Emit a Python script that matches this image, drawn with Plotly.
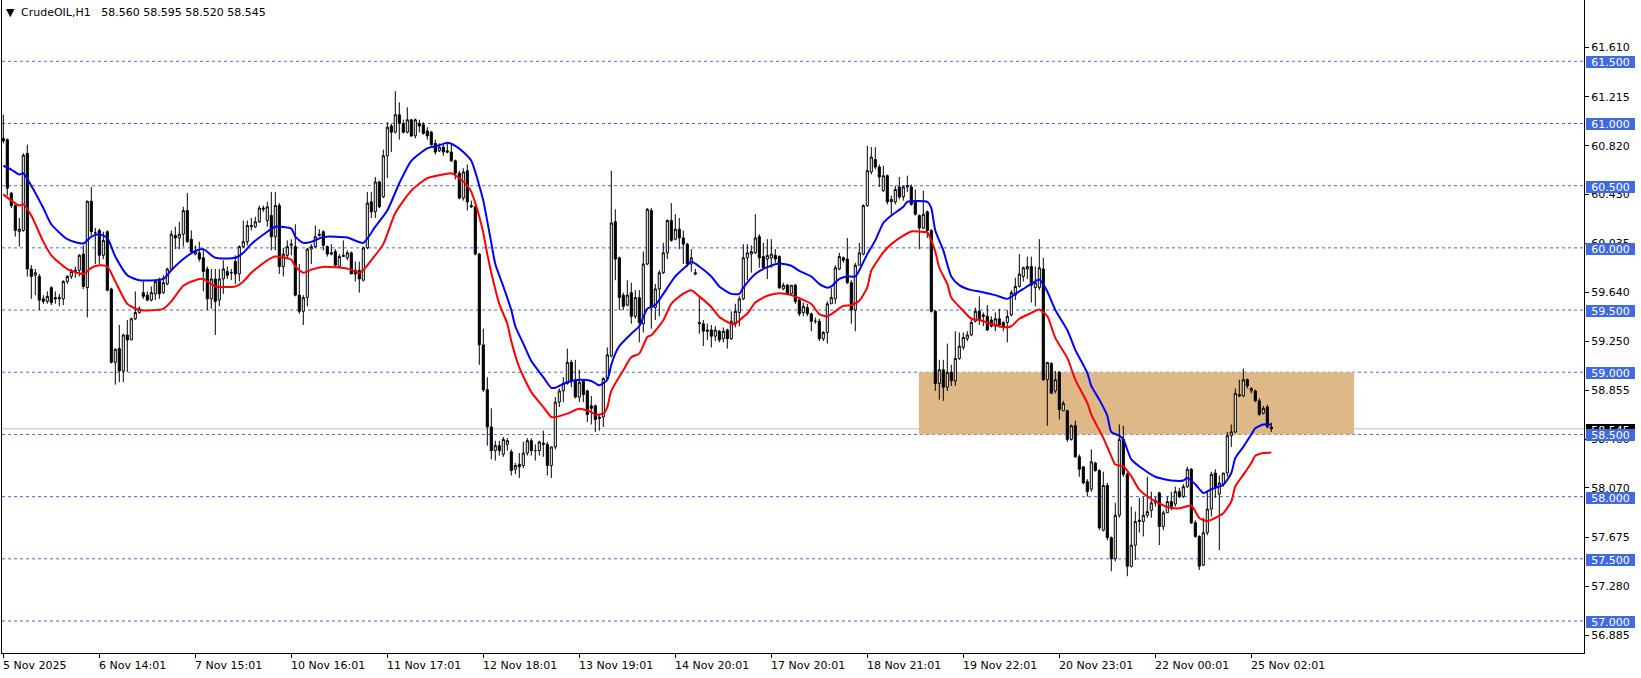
import plotly.graph_objects as go

# ---------------- data (CrudeOIL, H1) ----------------
opens = [
    60.88, 60.87, 60.44, 60.34, 60.13, 60.14, 60.76, 59.83, 59.78, 59.77,
    59.59, 59.57, 59.68, 59.60, 59.59, 59.59, 59.73, 59.77, 59.81, 59.82,
    59.95, 59.68, 60.375, 60.12, 60.14, 59.94, 60.13, 59.67, 59.08, 59.19,
    59.01, 59.30, 59.26, 59.43, 59.48, 59.64, 59.62, 59.58, 59.63, 59.74,
    59.64, 59.71, 59.83, 60.10, 60.08, 60.11, 60.30, 60.07, 59.95, 59.96,
    59.92, 59.83, 59.59, 59.75, 59.58, 59.75, 59.81, 59.80, 59.89, 59.79,
    60.01, 60.05, 60.17, 60.17, 60.21, 60.31, 60.22, 60.26, 60.09, 60.34,
    59.85, 59.94, 60.02, 60.01, 59.62, 59.49, 59.60, 59.99, 60.01, 60.10,
    60.13, 60.01, 59.95, 59.97, 59.85, 59.93, 59.92, 59.96, 59.82, 59.82,
    59.74, 60.00, 60.37, 60.29, 60.53, 60.41, 60.74, 60.98, 60.93, 61.07,
    61.00, 60.93, 61.03, 60.90, 61.00, 60.99, 60.94, 60.93, 60.84, 60.78,
    60.81, 60.78, 60.77, 60.70, 60.60, 60.40, 60.62, 60.34, 60.33, 59.95,
    59.22, 58.86, 58.56, 58.37, 58.41, 58.34, 58.42, 58.36, 58.22, 58.26,
    58.25, 58.35, 58.45, 58.37, 58.37, 58.43, 58.42, 58.25, 58.40, 58.76,
    58.85, 58.91, 59.08, 58.93, 58.80, 58.93, 58.85, 58.73, 58.73, 58.64,
    58.64, 58.95, 59.13, 60.21, 59.92, 59.62, 59.54, 59.64, 59.45, 59.60,
    59.39, 59.87, 60.30, 59.52, 59.67, 59.80, 59.96, 60.22, 60.07, 60.15,
    60.08, 60.03, 59.87, 59.80, 59.39, 59.39, 59.34, 59.34, 59.29, 59.33,
    59.27, 59.34, 59.27, 59.40, 59.48, 59.59, 59.92, 59.95, 59.96, 60.09,
    59.93, 59.91, 59.92, 59.94, 59.93, 59.67, 59.70, 59.63, 59.70, 59.58,
    59.48, 59.52, 59.47, 59.41, 59.41, 59.27, 59.32, 59.55, 59.59, 59.83,
    59.92, 59.91, 59.72, 59.50, 59.86, 59.95, 60.34, 60.61, 60.71, 60.65,
    60.46, 60.58, 60.37, 60.37, 60.49, 60.41, 60.49, 60.49, 60.37, 60.26,
    60.16, 60.29, 60.14, 59.49, 58.91, 59.02, 58.88, 59.00, 58.93, 59.11,
    59.20, 59.27, 59.30, 59.41, 59.49, 59.46, 59.45, 59.42, 59.37, 59.43,
    59.40, 59.40, 59.46, 59.62, 59.69, 59.77, 59.83, 59.85, 59.68, 59.68,
    59.83, 58.94, 59.07, 58.85, 59.00, 58.69, 58.69, 58.46, 58.57, 58.32,
    58.24, 58.12, 58.06, 58.27, 58.21, 57.73, 58.09, 57.67, 57.50, 57.85,
    58.46, 58.18, 57.44, 57.61, 57.80, 57.80, 57.85, 57.89, 57.95, 58.03,
    57.76, 57.87, 57.96, 57.94, 58.04, 58.00, 58.08, 58.22, 57.79, 57.68,
    57.45, 57.71, 57.90, 58.19, 58.02, 58.10, 58.19, 58.49, 58.52, 58.82,
    58.81, 58.94, 58.85, 58.85, 58.77, 58.67, 58.72, 58.560,
]
highs = [
    61.07, 60.88, 60.45, 60.35, 60.24, 60.76, 60.83, 59.86, 59.83, 59.79,
    59.62, 59.65, 59.69, 59.65, 59.63, 59.74, 59.78, 59.83, 59.85, 59.95,
    60.02, 60.38, 60.49, 60.16, 60.155, 60.13, 60.14, 59.68, 59.19, 59.38,
    59.31, 59.42, 59.44, 59.65, 59.53, 59.73, 59.65, 59.69, 59.74, 59.76,
    59.78, 59.84, 60.14, 60.17, 60.21, 60.33, 60.44, 60.14, 60.02, 60.05,
    59.99, 59.85, 59.83, 59.83, 59.83, 59.90, 59.85, 59.83, 59.94, 60.02,
    60.22, 60.22, 60.24, 60.25, 60.34, 60.34, 60.37, 60.45, 60.45, 60.36,
    60.00, 60.06, 60.07, 60.19, 59.87, 59.62, 60.00, 60.03, 60.18, 60.15,
    60.14, 60.02, 60.03, 59.99, 59.95, 60.06, 59.98, 59.97, 59.89, 59.89,
    60.01, 60.45, 60.45, 60.57, 60.54, 60.79, 61.01, 61.00, 61.26, 61.17,
    61.03, 61.13, 61.03, 61.04, 61.03, 61.01, 60.97, 60.94, 60.87, 60.84,
    60.83, 60.84, 60.83, 60.71, 60.62, 60.64, 60.67, 60.38, 60.35, 59.96,
    59.35, 58.96, 58.71, 58.45, 58.45, 58.48, 58.47, 58.38, 58.27, 58.35,
    58.44, 58.47, 58.47, 58.42, 58.45, 58.53, 58.44, 58.40, 58.80, 58.87,
    58.96, 59.19, 59.10, 59.10, 59.02, 58.94, 58.86, 58.81, 58.74, 58.66,
    58.96, 59.20, 60.62, 60.31, 59.93, 59.64, 59.74, 59.72, 59.66, 59.66,
    59.97, 60.32, 60.32, 59.71, 59.82, 60.04, 60.23, 60.36, 60.27, 60.24,
    60.14, 60.04, 59.99, 59.83, 59.60, 59.42, 59.39, 59.38, 59.37, 59.34,
    59.36, 59.35, 59.49, 59.55, 59.61, 60.03, 60.03, 60.02, 60.27, 60.11,
    60.04, 60.07, 60.07, 59.99, 59.94, 59.72, 59.71, 59.70, 59.71, 59.60,
    59.56, 59.55, 59.48, 59.44, 59.43, 59.33, 59.57, 59.68, 59.86, 59.96,
    59.93, 60.08, 59.74, 59.88, 60.04, 60.35, 60.82, 60.81, 60.81, 60.67,
    60.66, 60.59, 60.42, 60.50, 60.57, 60.50, 60.58, 60.51, 60.47, 60.27,
    60.46, 60.30, 60.15, 59.50, 59.10, 59.10, 59.23, 59.06, 59.33, 59.32,
    59.32, 59.33, 59.42, 59.52, 59.61, 59.48, 59.54, 59.45, 59.48, 59.51,
    59.41, 59.50, 59.66, 59.76, 59.95, 59.85, 59.93, 59.93, 59.85, 60.07,
    59.92, 59.08, 59.08, 59.01, 59.01, 58.77, 58.70, 58.58, 58.61, 58.34,
    58.24, 58.14, 58.38, 58.28, 58.22, 58.20, 58.11, 57.68, 57.95, 58.58,
    58.57, 58.20, 57.92, 57.88, 57.99, 58.00, 58.16, 58.04, 58.00, 58.04,
    57.89, 58.00, 58.04, 58.08, 58.07, 58.10, 58.24, 58.23, 57.81, 57.69,
    57.83, 58.04, 58.20, 58.22, 58.17, 58.19, 58.52, 58.58, 58.87, 58.94,
    59.03, 58.95, 58.88, 58.86, 58.79, 58.73, 58.74, 58.595,
]
lows = [
    60.84, 60.42, 60.32, 60.09, 60.01, 60.13, 59.77, 59.59, 59.62, 59.50,
    59.55, 59.55, 59.54, 59.55, 59.53, 59.54, 59.71, 59.75, 59.76, 59.77,
    59.67, 59.44, 60.10, 59.87, 59.87, 59.91, 59.65, 59.07, 58.90, 58.92,
    58.92, 59.00, 59.26, 59.42, 59.47, 59.59, 59.57, 59.57, 59.58, 59.59,
    59.63, 59.70, 59.82, 59.99, 59.99, 60.01, 60.04, 59.95, 59.94, 59.89,
    59.65, 59.50, 59.51, 59.30, 59.53, 59.63, 59.75, 59.74, 59.71, 59.73,
    60.00, 60.02, 60.14, 60.16, 60.20, 60.29, 60.17, 59.98, 59.98, 59.79,
    59.77, 59.91, 59.94, 59.61, 59.47, 59.38, 59.53, 59.87, 60.00, 60.09,
    59.98, 59.93, 59.94, 59.85, 59.84, 59.93, 59.90, 59.79, 59.73, 59.64,
    59.73, 59.99, 60.24, 60.24, 60.32, 60.40, 60.56, 60.77, 60.92, 60.87,
    60.92, 60.92, 60.89, 60.88, 60.93, 60.91, 60.87, 60.82, 60.75, 60.77,
    60.74, 60.76, 60.69, 60.55, 60.39, 60.38, 60.30, 60.32, 59.94, 59.06,
    58.84, 58.41, 58.30, 58.29, 58.33, 58.32, 58.37, 58.17, 58.18, 58.15,
    58.23, 58.33, 58.33, 58.29, 58.33, 58.32, 58.17, 58.15, 58.38, 58.72,
    58.76, 58.90, 58.88, 58.79, 58.76, 58.76, 58.60, 58.58, 58.52, 58.53,
    58.56, 58.94, 59.12, 59.74, 59.50, 59.50, 59.53, 59.39, 59.43, 59.24,
    59.32, 59.86, 59.35, 59.42, 59.45, 59.79, 59.91, 60.05, 60.06, 59.99,
    59.87, 59.85, 59.81, 59.78, 59.31, 59.21, 59.26, 59.20, 59.25, 59.24,
    59.24, 59.19, 59.26, 59.36, 59.37, 59.58, 59.74, 59.80, 59.95, 59.84,
    59.83, 59.75, 59.84, 59.88, 59.67, 59.66, 59.62, 59.62, 59.55, 59.45,
    59.45, 59.45, 59.33, 59.39, 59.25, 59.25, 59.23, 59.55, 59.55, 59.82,
    59.88, 59.71, 59.39, 59.33, 59.86, 59.94, 60.33, 60.59, 60.63, 60.49,
    60.45, 60.35, 60.27, 60.35, 60.39, 60.38, 60.45, 60.34, 60.26, 59.99,
    60.15, 60.08, 59.48, 58.85, 58.78, 58.77, 58.85, 58.89, 58.89, 59.10,
    59.18, 59.25, 59.29, 59.40, 59.38, 59.37, 59.33, 59.36, 59.33, 59.36,
    59.33, 59.24, 59.45, 59.58, 59.68, 59.73, 59.75, 59.56, 59.53, 59.66,
    58.93, 58.57, 58.83, 58.83, 58.62, 58.69, 58.44, 58.45, 58.31, 58.16,
    58.10, 58.00, 58.04, 58.20, 57.73, 57.72, 57.65, 57.40, 57.48, 57.83,
    58.16, 57.36, 57.43, 57.49, 57.71, 57.68, 57.83, 57.83, 57.92, 57.61,
    57.73, 57.87, 57.89, 57.92, 57.99, 57.99, 58.07, 57.78, 57.67, 57.41,
    57.44, 57.69, 57.84, 57.99, 57.57, 58.08, 58.16, 58.40, 58.51, 58.80,
    58.80, 58.87, 58.83, 58.76, 58.65, 58.66, 58.55, 58.520,
]
closes = [
    60.86, 60.48, 60.34, 60.14, 60.15, 60.745, 59.83, 59.77, 59.80, 59.58,
    59.57, 59.61, 59.56, 59.59, 59.60, 59.73, 59.77, 59.81, 59.82, 59.94,
    59.69, 60.375, 60.13, 60.12, 59.94, 60.06, 59.66, 59.08, 59.185, 59.01,
    59.30, 59.26, 59.43, 59.48, 59.51, 59.61, 59.58, 59.64, 59.73, 59.63,
    59.72, 59.83, 60.11, 60.08, 60.11, 60.30, 60.05, 59.97, 59.97, 59.91,
    59.81, 59.59, 59.75, 59.57, 59.75, 59.83, 59.78, 59.80, 59.79, 60.01,
    60.05, 60.18, 60.18, 60.21, 60.32, 60.32, 60.33, 60.09, 60.34, 59.85,
    59.95, 60.01, 60.03, 59.62, 59.49, 59.60, 59.99, 60.01, 60.09, 60.11,
    60.02, 59.95, 59.96, 59.86, 59.93, 59.94, 59.96, 59.79, 59.79, 59.75,
    60.00, 60.36, 60.29, 60.53, 60.33, 60.74, 60.97, 60.93, 61.07, 61.00,
    60.93, 61.03, 60.90, 61.03, 60.98, 60.92, 60.90, 60.83, 60.77, 60.81,
    60.77, 60.77, 60.70, 60.60, 60.40, 60.61, 60.37, 60.33, 59.95, 59.22,
    58.86, 58.56, 58.37, 58.41, 58.37, 58.46, 58.45, 58.21, 58.25, 58.24,
    58.35, 58.45, 58.37, 58.37, 58.44, 58.42, 58.25, 58.40, 58.76, 58.85,
    58.91, 59.08, 58.93, 58.80, 58.92, 58.82, 58.66, 58.71, 58.62, 58.63,
    58.95, 59.14, 60.20, 59.91, 59.60, 59.53, 59.62, 59.45, 59.60, 59.40,
    59.87, 60.31, 59.52, 59.67, 59.80, 59.96, 60.22, 60.06, 60.15, 60.08,
    60.03, 59.87, 59.92, 59.79, 59.40, 59.33, 59.33, 59.29, 59.34, 59.26,
    59.33, 59.27, 59.41, 59.49, 59.59, 59.92, 59.96, 59.97, 60.08, 59.92,
    59.84, 59.94, 59.95, 59.91, 59.68, 59.70, 59.63, 59.70, 59.57, 59.47,
    59.53, 59.47, 59.41, 59.41, 59.27, 59.32, 59.55, 59.60, 59.84, 59.93,
    59.90, 59.72, 59.50, 59.86, 59.96, 60.34, 60.62, 60.73, 60.65, 60.57,
    60.58, 60.37, 60.39, 60.47, 60.41, 60.49, 60.50, 60.35, 60.27, 60.16,
    60.27, 60.14, 59.49, 58.91, 59.02, 58.88, 59.00, 58.93, 59.11, 59.21,
    59.28, 59.30, 59.40, 59.49, 59.42, 59.45, 59.34, 59.37, 59.43, 59.38,
    59.36, 59.45, 59.64, 59.69, 59.79, 59.84, 59.85, 59.70, 59.72, 59.84,
    58.94, 59.08, 58.83, 58.94, 58.70, 58.75, 58.46, 58.57, 58.32, 58.22,
    58.11, 58.04, 58.28, 58.21, 57.75, 58.09, 57.67, 57.50, 57.85, 58.46,
    58.18, 57.44, 57.61, 57.80, 57.81, 57.85, 57.88, 57.95, 57.97, 57.76,
    57.87, 57.96, 57.92, 58.04, 58.00, 58.08, 58.22, 57.79, 57.68, 57.44,
    57.71, 57.90, 58.18, 58.08, 58.11, 58.19, 58.49, 58.52, 58.83, 58.81,
    58.94, 58.89, 58.87, 58.77, 58.66, 58.71, 58.56, 58.545,
]
bars = list(range(len(closes)))

# moving averages (bar index, price)
blue_ma_bars = [
    0, 2, 4, 5, 7, 10, 12, 16, 20, 22, 24, 26, 28, 31, 34, 40, 42, 45, 48, 50,
    53, 58, 60, 62, 66, 68, 72, 73, 75, 77, 80, 86, 90, 93, 96, 99, 102, 106, 109, 111,
    113, 115, 117, 119, 120, 122, 123, 125, 127, 128, 130, 132, 135, 137, 138, 141, 144, 147, 149, 151,
    152, 153, 154, 157, 159, 161, 163, 165, 168, 171, 172, 174, 177, 179, 182, 184, 185, 188, 191, 194,
    197, 199, 202, 204, 206, 207, 209, 211, 213, 214, 216, 218, 220, 222, 225, 226, 231, 232, 233, 235,
    237, 239, 242, 244, 248, 251, 253, 255, 257, 259, 261, 263, 266, 268, 271, 272, 274, 276, 277, 279,
    280, 282, 285, 288, 292, 295, 296, 298, 300, 302, 305, 307, 308, 310, 312, 313, 315, 317,
]
blue_ma = [
    60.66, 60.63, 60.59, 60.60, 60.50, 60.32, 60.19, 60.07, 60.035, 60.09,
    60.11, 60.08, 59.93, 59.78, 59.74, 59.75, 59.82, 59.91, 59.975, 59.99,
    59.92, 59.92, 59.96, 60.03, 60.13, 60.17, 60.155, 60.09, 60.04, 60.048,
    60.088, 60.083, 60.04, 60.17, 60.30, 60.52, 60.70, 60.80, 60.825, 60.845,
    60.82, 60.77, 60.70, 60.50, 60.38, 60.04, 59.87, 59.69, 59.50, 59.37,
    59.23, 59.09, 58.96, 58.875, 58.876, 58.92, 58.94, 58.93, 58.895, 58.94,
    59.06, 59.15, 59.21, 59.31, 59.37, 59.51, 59.54, 59.63, 59.77, 59.86,
    59.89, 59.85, 59.77, 59.69, 59.63, 59.63, 59.68, 59.79, 59.845, 59.875,
    59.856, 59.815, 59.77, 59.71, 59.68, 59.69, 59.75, 59.77, 59.77, 59.82,
    59.95, 60.06, 60.20, 60.26, 60.33, 60.37, 60.37, 60.32, 60.14, 59.98,
    59.77, 59.70, 59.66, 59.65, 59.62, 59.59, 59.63, 59.67, 59.71, 59.745,
    59.65, 59.50, 59.34, 59.18, 58.995, 58.89, 58.78, 58.65, 58.52, 58.49,
    58.46, 58.30, 58.22, 58.16, 58.13, 58.13, 58.15, 58.10, 58.03, 58.06,
    58.095, 58.19, 58.31, 58.40, 58.50, 58.55, 58.58, 58.58,
]
red_ma_bars = [
    0, 2, 4, 5, 7, 10, 12, 16, 20, 22, 24, 26, 28, 31, 34, 40, 42, 45, 48, 50,
    53, 58, 60, 62, 66, 68, 72, 73, 75, 77, 80, 86, 89, 90, 92, 95, 98, 102, 106, 109,
    112, 114, 116, 117, 118, 119, 120, 121, 122, 124, 126, 127, 129, 132, 135, 137, 138, 141, 144, 147,
    148, 150, 151, 152, 155, 157, 159, 161, 162, 165, 167, 170, 172, 174, 177, 179, 182, 183, 185, 186,
    188, 191, 194, 197, 199, 202, 204, 206, 207, 210, 212, 214, 216, 217, 220, 222, 225, 227, 229, 231,
    232, 233, 234, 236, 237, 240, 242, 244, 247, 250, 252, 254, 257, 259, 261, 263, 266, 268, 271, 272,
    275, 277, 278, 280, 282, 284, 287, 291, 294, 297, 299, 301, 303, 305, 307, 308, 310, 312, 313, 315,
    317,
]
red_ma = [
    60.43, 60.38, 60.34, 60.35, 60.26, 60.05, 59.94, 59.83, 59.79, 59.84,
    59.86, 59.85, 59.73, 59.55, 59.50, 59.51, 59.57, 59.695, 59.74, 59.75,
    59.69, 59.69, 59.73, 59.80, 59.90, 59.93, 59.906, 59.85, 59.80, 59.825,
    59.847, 59.833, 59.80, 59.82, 59.90, 60.03, 60.28, 60.46, 60.56, 60.584,
    60.60, 60.56, 60.50, 60.45, 60.36, 60.25, 60.12, 59.95, 59.80, 59.55,
    59.39, 59.25, 59.04, 58.84, 58.72, 58.64, 58.64, 58.667, 58.707, 58.68,
    58.66, 58.667, 58.72, 58.85, 59.016, 59.12, 59.15, 59.284, 59.297, 59.418,
    59.55, 59.632, 59.66, 59.61, 59.525, 59.445, 59.39, 59.39, 59.445, 59.47,
    59.56, 59.615, 59.636, 59.62, 59.596, 59.548, 59.467, 59.449, 59.467, 59.534,
    59.54, 59.575, 59.682, 59.816, 59.963, 60.03, 60.098, 60.132, 60.13, 60.124,
    60.06, 59.97, 59.84, 59.71, 59.60, 59.494, 59.43, 59.42, 59.39, 59.362,
    59.37, 59.43, 59.477, 59.504, 59.45, 59.276, 59.115, 58.941, 58.753, 58.66,
    58.472, 58.324, 58.258, 58.244, 58.164, 58.056, 57.981, 57.917, 57.906, 57.928,
    57.829, 57.802, 57.829, 57.867, 57.961, 58.082, 58.175, 58.27, 58.328, 58.35,
    58.355,
]

x_label_bars = [0, 24, 48, 72, 96, 120, 144, 168, 192, 216, 240, 264, 288, 312]
x_labels = ["5 Nov 2025", "6 Nov 14:01", "7 Nov 15:01", "10 Nov 16:01", "11 Nov 17:01",
            "12 Nov 18:01", "13 Nov 19:01", "14 Nov 20:01", "17 Nov 20:01", "18 Nov 21:01",
            "19 Nov 22:01", "20 Nov 23:01", "22 Nov 00:01", "25 Nov 02:01"]

y_tick_vals = [61.610, 61.215, 60.820, 60.430, 60.035, 59.640, 59.250, 58.855,
               58.460, 58.070, 57.675, 57.280, 56.885]
y_tick_text = ["61.610", "61.215", "60.820", "60.430", "60.035", "59.640", "59.250",
               "58.855", "58.460", "58.070", "57.675", "57.280", "56.885"]

level_prices = [61.5, 61.0, 60.5, 60.0, 59.5, 59.0, 58.5, 58.0, 57.5, 57.0]
level_texts = ["61.500", "61.000", "60.500", "60.000", "59.500", "59.000",
               "58.500", "58.000", "57.500", "57.000"]

zone_bars = [228.9, 337.7]
zone_prices = [58.5, 59.0]

current_price = 58.545
header = "CrudeOIL,H1\u00a0\u00a0 58.560 58.595 58.520 58.545"

# ---------------- figure ----------------
FONT = "DejaVu Sans"
W, H = 1641, 678
ML, MR, MT, MB = 2, 57, 0, 25
PLOT_H = H - MT - MB

fig = go.Figure()

fig.add_trace(go.Candlestick(
    x=bars, open=opens, high=highs, low=lows, close=closes,
    increasing=dict(line=dict(color="black", width=1), fillcolor="white"),
    decreasing=dict(line=dict(color="black", width=1), fillcolor="black"),
    whiskerwidth=0, showlegend=False, hoverinfo="skip",
))
fig.add_trace(go.Scatter(
    x=blue_ma_bars, y=blue_ma, mode="lines",
    line=dict(color="#0000FF", width=2, shape="spline", smoothing=0.6),
    showlegend=False, hoverinfo="skip",
))
fig.add_trace(go.Scatter(
    x=red_ma_bars, y=red_ma, mode="lines",
    line=dict(color="#FF0000", width=2, shape="spline", smoothing=0.6),
    showlegend=False, hoverinfo="skip",
))

shapes = []
shapes.append(dict(type="rect", xref="x", yref="y",
                   x0=zone_bars[0], x1=zone_bars[1], y0=zone_prices[0], y1=zone_prices[1],
                   fillcolor="#DEB887", line=dict(width=0), layer="below"))
shapes.append(dict(type="line", xref="paper", yref="y", x0=0, x1=1,
                   y0=current_price, y1=current_price,
                   line=dict(color="#C0C0C0", width=1), layer="below"))
for p in level_prices:
    shapes.append(dict(type="line", xref="paper", yref="y", x0=0, x1=1, y0=p, y1=p,
                       line=dict(color="#4169E1", width=1, dash="3px,3px"), layer="below"))

annotations = []
# header
annotations.append(dict(text="\u25BC", xref="paper", yref="paper", x=0, y=1 - 12.5 / PLOT_H,
                        xanchor="left", yanchor="middle", xshift=2, showarrow=False,
                        font=dict(family=FONT, size=11, color="black")))
annotations.append(dict(text=header, xref="paper", yref="paper", x=0, y=1 - 12.5 / PLOT_H,
                        xanchor="left", yanchor="middle", xshift=17, showarrow=False,
                        font=dict(family=FONT, size=11, color="black")))
# x labels (left-aligned at tick, MT4 style)
for b, t in zip(x_label_bars, x_labels):
    annotations.append(dict(text=t, xref="x", yref="paper", x=b, y=0,
                            xanchor="left", yanchor="top", xshift=-2, yshift=-4,
                            showarrow=False, font=dict(family=FONT, size=11, color="black")))
# current price box
annotations.append(dict(text="58.545", xref="paper", yref="y", x=1, y=current_price,
                        xanchor="left", yanchor="middle", xshift=2, yshift=-1,
                        width=49, height=12, borderpad=0, borderwidth=0,
                        bgcolor="black", showarrow=False,
                        font=dict(family=FONT, size=11, color="white")))
# level boxes
for p, t in zip(level_prices, level_texts):
    annotations.append(dict(text=t, xref="paper", yref="y", x=1, y=p,
                            xanchor="left", yanchor="middle", xshift=2, yshift=-1,
                            width=49, height=12, borderpad=0, borderwidth=0,
                            bgcolor="#4169E1", showarrow=False,
                            font=dict(family=FONT, size=11, color="white")))

fig.update_layout(
    width=W, height=H,
    margin=dict(l=ML, r=MR, t=MT, b=MB, pad=0),
    paper_bgcolor="white", plot_bgcolor="white",
    shapes=shapes, annotations=annotations,
    showlegend=False,
    boxgap=0.25,
    xaxis=dict(
        range=[-0.325, 395.175], showgrid=False, zeroline=False,
        showline=True, linecolor="black", linewidth=1, mirror=False,
        ticks="outside", ticklen=4, tickcolor="black", tickwidth=1,
        tickvals=x_label_bars, showticklabels=False,
        rangeslider=dict(visible=False), fixedrange=True,
    ),
    yaxis=dict(
        range=[56.7428, 61.9928], side="right", showgrid=False, zeroline=False,
        showline=True, linecolor="black", linewidth=1, mirror=True,
        ticks="outside", ticklen=4, tickcolor="black", tickwidth=1,
        tickvals=y_tick_vals, ticktext=y_tick_text,
        tickfont=dict(family=FONT, size=11, color="black"),
        fixedrange=True,
    ),
    font=dict(family=FONT, size=11, color="black"),
)

fig.write_html(
    "out.html",
    config={"displayModeBar": False, "staticPlot": True},
    post_script="document.body.style.margin='0';document.body.style.overflow='hidden';",
)
